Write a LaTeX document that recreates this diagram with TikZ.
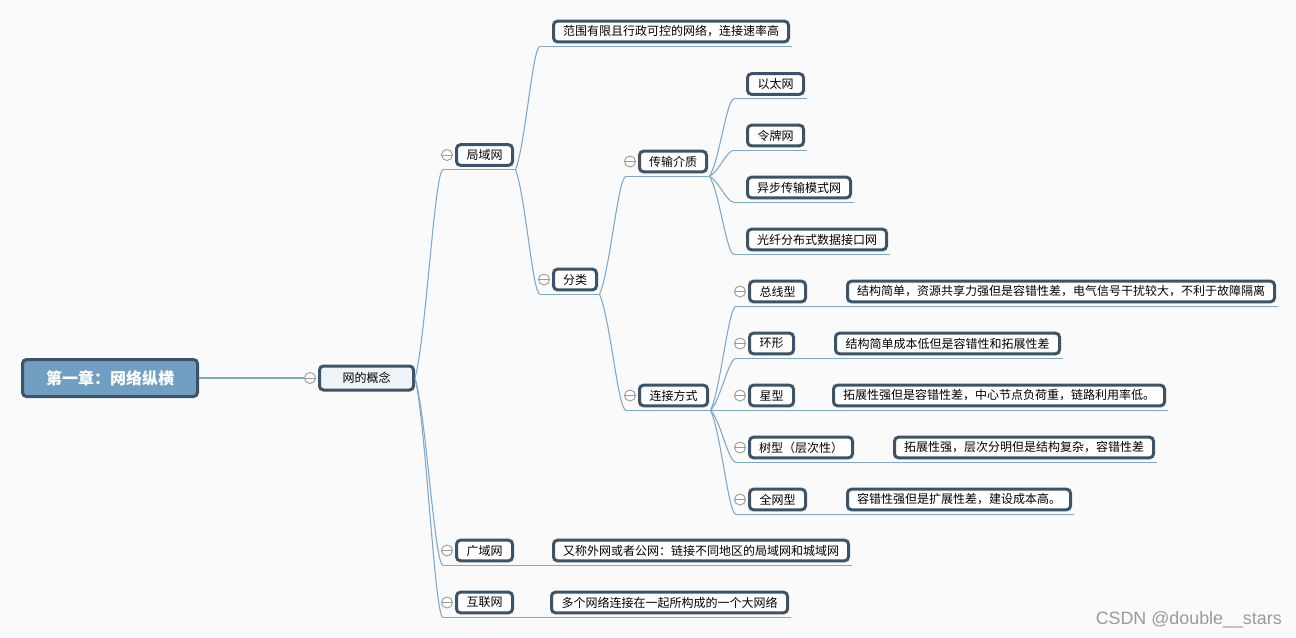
\documentclass[tikz,border=0pt]{standalone}
\usepackage{fontspec}
\newfontfamily\cjk{Noto Sans CJK SC}
\newfontfamily\wmfont{Liberation Sans}
\usetikzlibrary{calc}
\definecolor{bgc}{HTML}{FAFAFA}
\definecolor{bord}{HTML}{3D5468}
\definecolor{lnk}{HTML}{7EA8CA}
\definecolor{rootfill}{HTML}{709FC1}
\definecolor{cfill}{HTML}{EEF3F7}
\definecolor{collc}{HTML}{9C9C9C}
\definecolor{wmgray}{HTML}{9A9A9A}
\newcommand\mmcurve[2]{\draw[link] let \p1=(#1), \p2=(#2) in (\p1) .. controls ({\x1+0.4*(\x2-\x1)},{\y1+0.2*(\y2-\y1)}) and ({\x1+0.7*(\x2-\x1)},\y2) .. (\p2);}
\newcommand\mmio[1]{\coordinate (#1-i) at ($(#1.south west)+(-12,3)$);\coordinate (#1-o) at ($(#1.south east)+(1.5,3)$);}
\newcommand\mmbtn[1]{\node[collbtn] (#1-c) at ($(#1.west)+(-8,0)$) {};}
\begin{document}
\begin{tikzpicture}[x=0.75pt,y=-0.75pt,
  box/.style={draw=bord, line width=2.25pt, rounded corners=3pt, fill=white, inner sep=0pt, font=\cjk\fontsize{9}{11}\selectfont, minimum height=15.5pt},
  link/.style={draw=lnk, line width=0.8pt},
  collbtn/.style={circle, draw=collc, line width=0.7pt, fill=white, minimum size=8.25pt, inner sep=0pt, path picture={\draw[collc, line width=0.7pt] (path picture bounding box.west) -- (path picture bounding box.east);}},
]
\fill[bgc] (0,0) rectangle (1296,637);
\useasboundingbox (0,0) rectangle (1296,637);

% nodes
\node[box, fill=rootfill, minimum width=131.25pt, minimum height=27.75pt, font=\cjk\bfseries\fontsize{12}{14}\selectfont, text=white] (root) at (110,378) {第一章：网络纵横};
\node[box, fill=cfill, minimum width=70.5pt, minimum height=18pt] (gn) at (366.5,378) {网的概念};
\node[box, minimum width=42pt] (jy) at (484.5,155) {局域网};
\node[box, minimum width=176.25pt] (fw) at (671,31.5) {范围有限且行政可控的网络，连接速率高};
\node[box, minimum width=32.25pt] (fl) at (575,279.5) {分类};
\node[box, minimum width=50.25pt] (cs) at (673,161.5) {传输介质};
\node[box, minimum width=42pt] (yt) at (775.5,84) {以太网};
\node[box, minimum width=42pt] (lp) at (775.5,135.5) {令牌网};
\node[box, minimum width=77.25pt] (yb) at (799,187.5) {异步传输模式网};
\node[box, minimum width=104.25pt] (gx) at (817,239.5) {光纤分布式数据接口网};
\node[box, minimum width=51pt] (lj) at (673.5,395.5) {连接方式};
\node[box, minimum width=42pt] (zx) at (777.5,291.5) {总线型};
\node[box, minimum width=320.25pt] (zxd) at (1061,291.5) {结构简单，资源共享力强但是容错性差，电气信号干扰较大，不利于故障隔离};
\node[box, minimum width=33pt] (hx) at (771.5,343.5) {环形};
\node[box, minimum width=168pt] (hxd) at (947.5,343.5) {结构简单成本低但是容错性和拓展性差};
\node[box, minimum width=33pt] (xx) at (771.5,395.5) {星型};
\node[box, minimum width=248.25pt] (xxd) at (999,395.5) {拓展性强但是容错性差，中心节点负荷重，链路利用率低。};
\node[box, minimum width=77.25pt] (sx) at (801,447.5) {树型（层次性）};
\node[box, minimum width=194.25pt] (sxd) at (1024,447.5) {拓展性强，层次分明但是结构复杂，容错性差};
\node[box, minimum width=42pt] (qw) at (777.5,499.5) {全网型};
\node[box, minimum width=167.25pt] (qwd) at (959,499.5) {容错性强但是扩展性差，建设成本高。};
\node[box, minimum width=42pt] (gy) at (484.5,550.5) {广域网};
\node[box, minimum width=221.25pt] (gyd) at (701,550.5) {又称外网或者公网：链接不同地区的局域网和城域网};
\node[box, minimum width=42pt] (hl) at (484.5,602.5) {互联网};
\node[box, minimum width=177pt] (hld) at (669.5,602.5) {多个网络连接在一起所构成的一个大网络};

% collapse buttons
\mmbtn{gn}\mmbtn{jy}\mmbtn{fl}\mmbtn{cs}\mmbtn{lj}\mmbtn{zx}\mmbtn{hx}\mmbtn{xx}\mmbtn{sx}\mmbtn{qw}\mmbtn{gy}\mmbtn{hl}

% attach points
\mmio{jy}\mmio{fw}\mmio{fl}\mmio{cs}\mmio{yt}\mmio{lp}\mmio{yb}\mmio{gx}\mmio{lj}
\mmio{zx}\mmio{hx}\mmio{xx}\mmio{sx}\mmio{qw}\mmio{gy}\mmio{hl}
\mmio{zxd}\mmio{hxd}\mmio{xxd}\mmio{sxd}\mmio{qwd}\mmio{gyd}\mmio{hld}

% connectors
\draw[link] (root.east) -- (gn-c.west);
\mmcurve{gn.east}{jy-i}
\mmcurve{gn.east}{gy-i}
\mmcurve{gn.east}{hl-i}
\mmcurve{jy-o}{fw-i}
\mmcurve{jy-o}{fl-i}
\mmcurve{fl-o}{cs-i}
\mmcurve{fl-o}{lj-i}
\mmcurve{cs-o}{yt-i}
\mmcurve{cs-o}{lp-i}
\mmcurve{cs-o}{yb-i}
\mmcurve{cs-o}{gx-i}
\mmcurve{lj-o}{zx-i}
\mmcurve{lj-o}{hx-i}
\mmcurve{lj-o}{xx-i}
\mmcurve{lj-o}{sx-i}
\mmcurve{lj-o}{qw-i}

% underlines
\draw[link] (jy-i) -- (jy-o);
\draw[link] (fw-i) -- (fw-o);
\draw[link] (fl-i) -- (fl-o);
\draw[link] (cs-i) -- (cs-o);
\draw[link] (yt-i) -- (yt-o);
\draw[link] (lp-i) -- (lp-o);
\draw[link] (yb-i) -- (yb-o);
\draw[link] (gx-i) -- (gx-o);
\draw[link] (lj-i) -- (lj-o);
\draw[link] (zx-i) -- (zx-o) -- (zxd-o);
\draw[link] (hx-i) -- (hx-o) -- (hxd-o);
\draw[link] (xx-i) -- (xx-o) -- (xxd-o);
\draw[link] (sx-i) -- (sx-o) -- (sxd-o);
\draw[link] (qw-i) -- (qw-o) -- (qwd-o);
\draw[link] (gy-i) -- (gy-o) -- (gyd-o);
\draw[link] (hl-i) -- (hl-o) -- (hld-o);

% watermark
\node[font=\wmfont\fontsize{13.4}{15}\selectfont, text=wmgray, anchor=east, inner sep=0pt] (wm) at (1282,620) {CSDN @double\_\_stars};
\end{tikzpicture}
\end{document}
